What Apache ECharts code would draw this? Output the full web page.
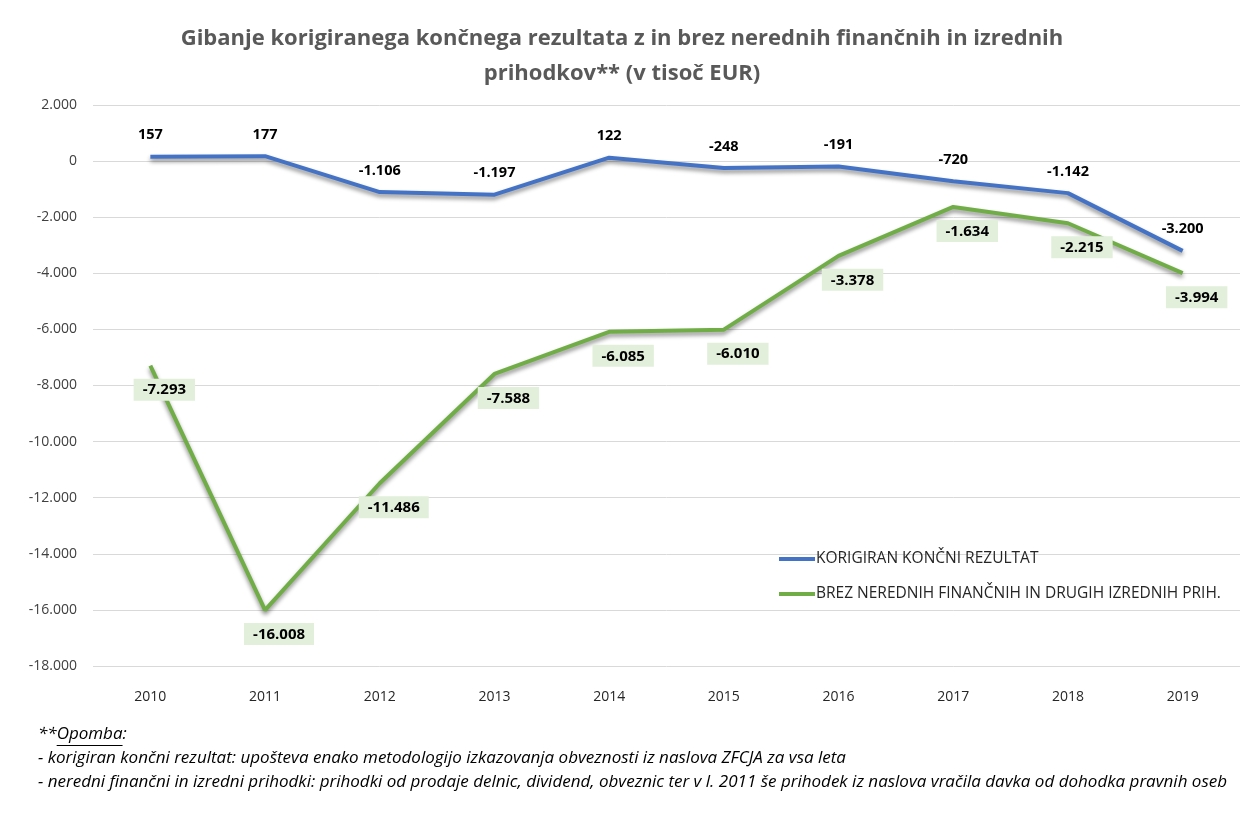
<!DOCTYPE html>
<html>
<head>
<meta charset="utf-8">
<script src="https://cdn.jsdelivr.net/npm/echarts@6/dist/echarts.min.js"></script>
<style>
html, body { margin: 0; padding: 0; background: #fff; }
#chart { width: 1240px; height: 816px; }
</style>
</head>
<body>
<div id="chart"></div>
<script>
let years = ['2010', '2011', '2012', '2013', '2014', '2015', '2016', '2017', '2018', '2019'];
let korigiran = [157, 177, -1106, -1197, 122, -248, -191, -720, -1142, -3200];
let brez = [-7293, -16008, -11486, -7588, -6085, -6010, -3378, -1634, -2215, -3994];
let yTicks = { min: -18000, max: 2000, step: 2000 };

// slovenski zapis tisočic s piko
function fmt(v) {
	let s = Math.abs(v).toString().replace(/\B(?=(\d{3})+(?!\d))/g, '.');
	return (v < 0 ? '-' : '') + s;
}

let chart = echarts.init(document.getElementById('chart'));
let font = 'Open Sans';
let noteFont = 'italic 17px "Open Sans"';

// širina "**" in "Opomba" za podčrtaj
let ctx = document.createElement('canvas').getContext('2d');
ctx.font = noteFont;
let starW = ctx.measureText('**').width;
let opW = ctx.measureText('Opomba').width;

option = {
	backgroundColor: '#fff',
	title: {
		text: 'Gibanje korigiranega končnega rezultata z in brez nerednih finančnih in izrednih\nprihodkov** (v tisoč EUR)',
		left: 617,
		textAlign: 'center',
		top: 16,
		textStyle: {
			fontFamily: font,
			fontSize: 22,
			fontWeight: 'bold',
			color: '#595959',
			lineHeight: 35
		}
	},
	grid: { left: 93, right: 0, top: 105, bottom: 150 },
	legend: {
		orient: 'vertical',
		left: 774,
		top: 546,
		itemWidth: 36,
		itemHeight: 4,
		itemGap: 19,
		icon: 'rect',
		textStyle: { fontFamily: font, fontSize: 15.5, color: '#262626', padding: [0, 0, 0, -4] },
		data: ['KORIGIRAN KONČNI REZULTAT', 'BREZ NEREDNIH FINANČNIH IN DRUGIH IZREDNIH PRIH.']
	},
	xAxis: {
		type: 'category',
		data: years,
		axisLine: { show: false },
		axisTick: { show: false },
		axisLabel: { fontFamily: font, fontSize: 14, color: '#262626', margin: 24 }
	},
	yAxis: {
		type: 'value',
		min: yTicks.min,
		max: yTicks.max,
		interval: yTicks.step,
		axisLabel: { fontFamily: font, fontSize: 14, color: '#404040', margin: 16, formatter: fmt },
		splitLine: { lineStyle: { color: '#d9d9d9', width: 1 } }
	},
	series: [{
		name: 'KORIGIRAN KONČNI REZULTAT',
		type: 'line',
		data: korigiran,
		symbol: 'circle',
		symbolSize: 0,
		showSymbol: true,
		color: '#4472C4',
		lineStyle: {
			width: 4,
			color: '#4472C4',
			shadowColor: 'rgba(0,0,0,0.45)',
			shadowBlur: 4,
			shadowOffsetY: 3
		},
		label: {
			show: true,
			position: 'top',
			distance: 14,
			formatter: function (p) { return fmt(p.value); },
			fontFamily: font,
			fontSize: 14.5,
			fontWeight: 'bold',
			color: '#000'
		},
		z: 3
	}, {
		name: 'BREZ NEREDNIH FINANČNIH IN DRUGIH IZREDNIH PRIH.',
		type: 'line',
		data: brez,
		symbol: 'circle',
		symbolSize: 0,
		showSymbol: true,
		color: '#70AD47',
		lineStyle: {
			width: 4,
			color: '#70AD47',
			shadowColor: 'rgba(0,0,0,0.45)',
			shadowBlur: 4,
			shadowOffsetY: 3
		},
		label: {
			show: true,
			position: 'bottom',
			distance: 13,
			offset: [14, 0],
			formatter: function (p) { return fmt(p.value); },
			fontFamily: font,
			fontSize: 15,
			fontWeight: 'bold',
			color: '#000',
			backgroundColor: '#E2EFDA',
			padding: [4, 9, 3, 9]
		},
		z: 2
	}],
	graphic: [{
		type: 'text',
		left: 38,
		top: 726,
		style: { text: '**Opomba:', font: noteFont, fill: '#000' }
	}, {
		type: 'line',
		shape: { x1: 38 + starW, y1: 745.5, x2: 38 + starW + opW, y2: 745.5 },
		style: { stroke: '#000', lineWidth: 1 }
	}, {
		type: 'text',
		left: 38,
		top: 750,
		style: {
			text: '- korigiran končni rezultat: upošteva enako metodologijo izkazovanja obveznosti iz naslova ZFCJA za vsa leta',
			font: noteFont,
			fill: '#000'
		}
	}, {
		type: 'text',
		left: 38,
		top: 774,
		style: {
			text: '- neredni finančni in izredni prihodki: prihodki od prodaje delnic, dividend, obveznic ter v l. 2011 še prihodek iz naslova vračila davka od dohodka pravnih oseb',
			font: noteFont,
			fill: '#000'
		}
	}]
};

chart.setOption(option, true);
</script>
</body>
</html>
